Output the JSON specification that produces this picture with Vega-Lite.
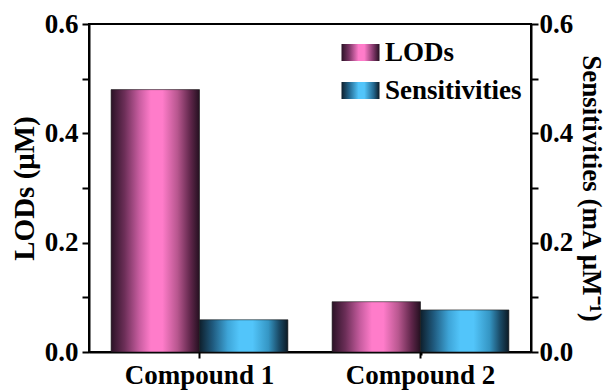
{
  "$schema": "https://vega.github.io/schema/vega-lite/v6.json",
  "width": 442,
  "height": 328,
  "autosize": {"type": "none"},
  "padding": {"left": 89, "top": 24, "right": 77, "bottom": 40},
  "background": "white",
  "config": {
    "font": "Liberation Serif",
    "view": {"stroke": "black", "strokeWidth": 2},
    "axis": {
      "labelFont": "Liberation Serif",
      "labelFontWeight": "bold",
      "labelFontSize": 27,
      "labelColor": "black",
      "titleFont": "Liberation Serif",
      "titleFontWeight": "bold",
      "titleFontSize": 27,
      "titleColor": "black",
      "domainColor": "black",
      "domainWidth": 2,
      "tickColor": "black",
      "tickWidth": 2,
      "grid": false,
      "labelFlush": false,
      "labelOverlap": false
    },
    "legend": {
      "labelFont": "Liberation Serif",
      "labelFontWeight": "bold",
      "labelFontSize": 27,
      "labelColor": "black"
    }
  },
  "data": {
    "values": [
      {"compound": "Compound 1", "series": "LODs", "value": 0.48},
      {"compound": "Compound 1", "series": "Sensitivities", "value": 0.059},
      {"compound": "Compound 2", "series": "LODs", "value": 0.092},
      {"compound": "Compound 2", "series": "Sensitivities", "value": 0.077}
    ]
  },
  "layer": [
    {
      "transform": [{"filter": "datum.series === 'LODs'"}],
      "mark": {
        "type": "bar",
        "fill": {"gradient": "linear", "x1": 0, "y1": 0, "x2": 1, "y2": 0, "stops": [
          {"offset": 0, "color": "#2b1226"},
          {"offset": 0.15, "color": "#6b2e57"},
          {"offset": 0.32, "color": "#c85da0"},
          {"offset": 0.45, "color": "#ff7cca"},
          {"offset": 0.58, "color": "#ff7cca"},
          {"offset": 0.75, "color": "#b8578f"},
          {"offset": 0.9, "color": "#5e2549"},
          {"offset": 1, "color": "#241020"}
        ]},
        "stroke": "#1a1a1a",
        "strokeWidth": 0.6
      },
      "encoding": {
        "x": {
          "field": "compound", "type": "nominal",
          "scale": {"domain": ["Compound 1", "Compound 2"], "paddingInner": 0, "paddingOuter": 0},
          "axis": {"title": null, "labelAngle": 0, "tickSize": 6, "labelPadding": 4, "orient": "bottom"}
        },
        "xOffset": {
          "field": "series", "type": "nominal",
          "scale": {"domain": ["LODs", "Sensitivities"], "paddingInner": 0, "paddingOuter": 0.25}
        },
        "y": {
          "field": "value", "type": "quantitative",
          "scale": {"domain": [0, 0.6], "nice": false, "zero": true},
          "axis": {
            "orient": "left",
            "title": "LODs (μM)",
            "titleFontSize": 29,
            "values": [0, 0.1, 0.2, 0.3, 0.4, 0.5, 0.6],
            "labelExpr": "abs(datum.value*5 - round(datum.value*5)) < 0.01 ? format(datum.value, '.1f') : ''",
            "tickSize": 7,
            "labelPadding": 4,
            "titlePadding": 5,
            "encode": {"ticks": {"update": {"x2": {"signal": "abs(datum.value*5 - round(datum.value*5)) < 0.01 ? -7 : -4"}}}}
          }
        }
      }
    },
    {
      "transform": [{"filter": "datum.series === 'Sensitivities'"}],
      "mark": {
        "type": "bar",
        "fill": {"gradient": "linear", "x1": 0, "y1": 0, "x2": 1, "y2": 0, "stops": [
          {"offset": 0, "color": "#0e1f2c"},
          {"offset": 0.15, "color": "#1f5a7e"},
          {"offset": 0.32, "color": "#3ea5d8"},
          {"offset": 0.45, "color": "#52c5fa"},
          {"offset": 0.6, "color": "#52c5fa"},
          {"offset": 0.78, "color": "#3596c4"},
          {"offset": 0.9, "color": "#1a4a66"},
          {"offset": 1, "color": "#0c1a25"}
        ]},
        "stroke": "#1a1a1a",
        "strokeWidth": 0.6
      },
      "encoding": {
        "x": {
          "field": "compound", "type": "nominal",
          "scale": {"domain": ["Compound 1", "Compound 2"], "paddingInner": 0, "paddingOuter": 0},
          "axis": null
        },
        "xOffset": {
          "field": "series", "type": "nominal",
          "scale": {"domain": ["LODs", "Sensitivities"], "paddingInner": 0, "paddingOuter": 0.25}
        },
        "y": {
          "field": "value", "type": "quantitative",
          "scale": {"domain": [0, 0.6], "nice": false, "zero": true},
          "axis": null
        }
      }
    },
    {
      "mark": {
        "type": "point",
        "filled": true,
        "opacity": 0,
        "fill": {"expr": "(datum.series || datum.value) === 'LODs' ? {gradient: 'linear', x1: 0, y1: 0, x2: 1, y2: 0, stops: [{offset: 0, color: '#2b1226'}, {offset: 0.2, color: '#7a3464'}, {offset: 0.45, color: '#ff7cca'}, {offset: 0.6, color: '#ff7cca'}, {offset: 0.85, color: '#7a3464'}, {offset: 1, color: '#241020'}]} : {gradient: 'linear', x1: 0, y1: 0, x2: 1, y2: 0, stops: [{offset: 0, color: '#0e1f2c'}, {offset: 0.2, color: '#22658c'}, {offset: 0.45, color: '#52c5fa'}, {offset: 0.6, color: '#52c5fa'}, {offset: 0.85, color: '#22658c'}, {offset: 1, color: '#0c1a25'}]}"},
        "stroke": "#1a1a1a",
        "strokeWidth": 1
      },
      "encoding": {
        "x": {
          "field": "compound", "type": "nominal",
          "scale": {"domain": ["Compound 1", "Compound 2"], "paddingInner": 0, "paddingOuter": 0},
          "axis": {"orient": "bottom", "values": ["Compound 2"], "bandPosition": 0, "labels": false, "domain": false, "tickSize": 3, "title": null}
        },
        "y": {
          "field": "value", "type": "quantitative",
          "scale": {"domain": [0, 0.6], "nice": false, "zero": true},
          "axis": {
            "orient": "right",
            "title": "Sensitivities (mA μM⁻¹)",
            "titleAngle": 90,
            "values": [0, 0.1, 0.2, 0.3, 0.4, 0.5, 0.6],
            "labelExpr": "abs(datum.value*5 - round(datum.value*5)) < 0.01 ? format(datum.value, '.1f') : ''",
            "tickSize": 7,
            "labelPadding": 1,
            "titlePadding": 4,
            "encode": {"ticks": {"update": {"x2": {"signal": "abs(datum.value*5 - round(datum.value*5)) < 0.01 ? 7 : 4"}}}}
          }
        },
        "shape": {
          "field": "series", "type": "nominal",
          "scale": {"domain": ["LODs", "Sensitivities"], "range": ["M-1,-0.45H1V0.45H-1Z", "M-1,-0.45H1V0.45H-1Z"]},
          "legend": {
            "title": null,
            "orient": "top-right",
            "offset": 9,
            "padding": 0,
            "rowPadding": 5,
            "labelOffset": 5,
            "symbolSize": 1444,
            "symbolStrokeColor": "#1a1a1a",
            "symbolStrokeWidth": 1,
            "symbolOpacity": 1
          }
        }
      }
    }
  ],
  "resolve": {"scale": {"y": "independent", "x": "independent"}}
}
